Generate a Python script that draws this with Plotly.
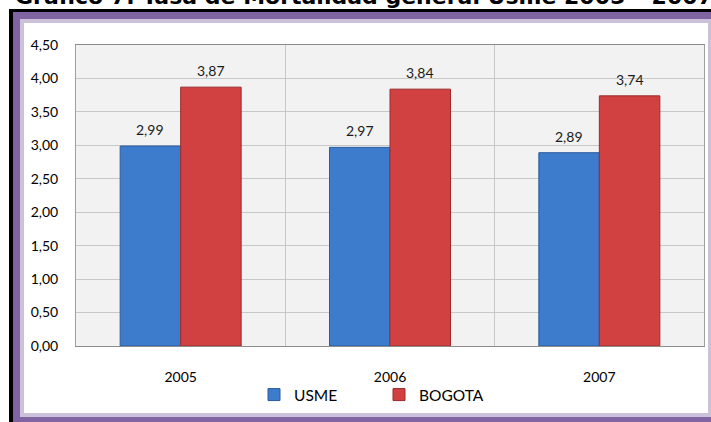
import plotly.graph_objects as go

years = ["2005", "2006", "2007"]
usme = [2.99, 2.97, 2.89]
bogota = [3.87, 3.84, 3.74]
series_names = ["USME", "BOGOTA"]
title_text = "Gráfico 7. Tasa de Mortalidad general Usme 2005 – 2007"

W, H = 711, 422
L, R, T, B = 76, 7, 45, 76
pw, ph = W - L - R, H - T - B

def px_x(x):
    return (x - L) / pw

def px_y(y):
    return (H - B - y) / ph

FONT = "Lato"
blue, blue_edge = "#3d7bcc", "#2c5c9c"
red, red_edge = "#d24141", "#9c2c2c"

fig = go.Figure()
fig.add_bar(x=years, y=usme, name=series_names[0],
            marker=dict(color=blue, line=dict(color=blue_edge, width=1)))
fig.add_bar(x=years, y=bogota, name=series_names[1],
            marker=dict(color=red, line=dict(color=red_edge, width=1)))

shapes = []
def rect(x0, y0, x1, y1, color):
    shapes.append(dict(type="rect", xref="paper", yref="paper",
                       x0=px_x(x0), x1=px_x(x1), y0=px_y(y0), y1=px_y(y1),
                       fillcolor=color, line=dict(width=0), layer="below"))

rect(9, 9, 760, 460, "#000000")
rect(13, 12, 760, 460, "#8064a2")
rect(20, 19, 712, 417, "#ccc1da")
rect(24, 23, 708, 413, "#ffffff")
rect(L, T, L + pw, T + ph, "#f2f2f2")

annotations = []
for vals, dx in ((usme, -30.25), (bogota, 30.25)):
    for i, v in enumerate(vals):
        annotations.append(dict(x=i, y=v, xref="x", yref="y",
                                text=f"{v:.2f}".replace(".", ","),
                                showarrow=False, xshift=dx, yanchor="bottom",
                                yshift=6, font=dict(family=FONT, size=14, color="#1a1a1a")))

annotations.append(dict(xref="paper", yref="paper", x=px_x(13), y=px_y(11),
                        xanchor="left", yanchor="bottom", text=title_text,
                        showarrow=False, font=dict(family="DejaVu Sans", size=22,
                                                   color="#000000", weight="bold")))

fig.update_layout(
    width=W, height=H,
    margin=dict(l=L, r=R, t=T, b=B, pad=0, autoexpand=False),
    paper_bgcolor="#ffffff", plot_bgcolor="rgba(0,0,0,0)",
    separators=",.",
    barmode="group", bargap=0.422, bargroupgap=0,
    font=dict(family=FONT, size=14, color="#000000"),
    shapes=shapes, annotations=annotations,
    showlegend=True,
    legend=dict(orientation="h", x=px_x(379), xanchor="center",
                y=px_y(395), yanchor="middle", font=dict(family=FONT, size=15.5),
                entrywidth=80, bgcolor="rgba(0,0,0,0)"),
)
fig.update_xaxes(type="category", range=[-0.5, 2.5], tickson="boundaries", showgrid=True,
                 gridcolor="#c8c8c8", showline=True, linecolor="#8c8c8c",
                 mirror=True, ticks="", ticklabelstandoff=18, tickangle=0,
                 automargin=False)
fig.update_yaxes(range=[0, 4.5], dtick=0.5, tick0=0, tickformat=".2f",
                 showgrid=True, gridcolor="#c8c8c8", gridwidth=1,
                 showline=True, linecolor="#a0a0a0", mirror=True,
                 ticks="", ticklabelstandoff=14, zeroline=False, automargin=False)

fig.write_html("out.html", config={"displayModeBar": False},
               post_script="document.body.style.margin='0px';document.body.style.overflow='hidden';")
